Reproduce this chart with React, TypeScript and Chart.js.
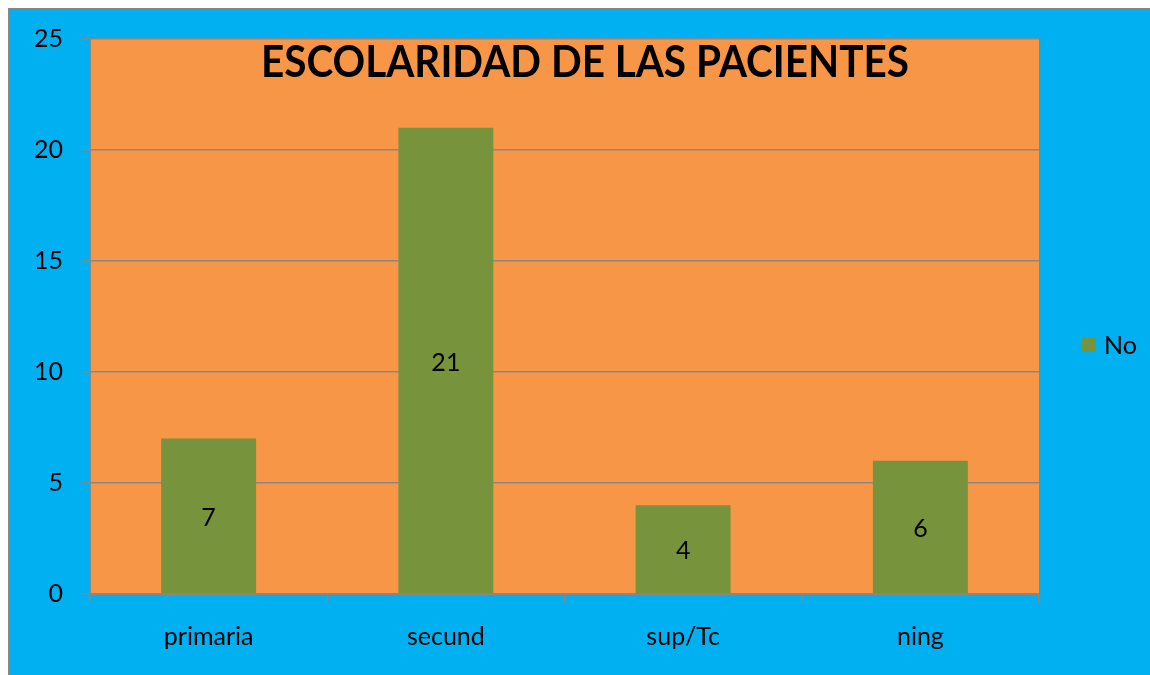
import React, { useEffect, useRef } from "react";
import { Chart, registerables } from "chart.js";

Chart.register(...registerables);

const categories = ["primaria", "secund", "sup/Tc", "ning"];
const seriesName = "No";
const seriesValues = [7, 21, 4, 6];
const yTicks = [0, 5, 10, 15, 20, 25];
const titleText = "ESCOLARIDAD DE LAS PACIENTES";

const BLUE = "#00B0F0";
const ORANGE = "#F79646";
const GREEN = "#77933C";
const GRAY = "#878787";
const FONT = "Lato";

const plotBg = {
  id: "plotBg",
  beforeDraw(chart: any) {
    const { ctx, chartArea } = chart;
    ctx.save();
    ctx.fillStyle = ORANGE;
    ctx.fillRect(chartArea.left, chartArea.top, chartArea.right - chartArea.left, chartArea.bottom - chartArea.top);
    ctx.restore();
  },
};

const overlay = {
  id: "overlay",
  afterDatasetsDraw(chart: any) {
    const { ctx, chartArea } = chart;
    const meta = chart.getDatasetMeta(0);
    ctx.save();
    ctx.fillStyle = "#000";
    ctx.font = `25px ${FONT}`;
    ctx.textAlign = "center";
    ctx.textBaseline = "middle";
    meta.data.forEach((bar: any, i: number) => {
      ctx.fillText(String(seriesValues[i]), bar.x, (bar.y + bar.base) / 2 + 2);
    });
    // legend
    const ds = chart.data.datasets[0];
    const bx = chartArea.right + 43;
    const by = 329;
    ctx.fillStyle = ds.backgroundColor;
    ctx.fillRect(bx, by, 14, 14);
    ctx.fillStyle = "#000";
    ctx.textAlign = "left";
    ctx.fillText(ds.label, bx + 22, by + 8);
    // title
    ctx.textAlign = "center";
    ctx.font = `bold 44px ${FONT}`;
    ctx.textBaseline = "alphabetic";
    const w = ctx.measureText(titleText).width;
    const target = 648;
    const sx = target / w;
    ctx.translate(chart.width / 2 + 5, 68);
    ctx.scale(sx, 1);
    ctx.fillText(titleText, 0, 0);
    ctx.restore();
  },
};

export default function App() {
  const ref = useRef<HTMLCanvasElement>(null);
  useEffect(() => {
    if (!ref.current) return;
    const chart = new Chart(ref.current, {
      type: "bar",
      data: {
        labels: categories,
        datasets: [
          {
            label: seriesName,
            data: seriesValues,
            backgroundColor: GREEN,
            borderWidth: 0,
            categoryPercentage: 0.4,
            barPercentage: 1,
          },
        ],
      },
      options: {
        animation: false,
        responsive: true,
        maintainAspectRatio: false,
        layout: { padding: { top: 30, right: 111, left: 0, bottom: 0 } },
        plugins: {
          legend: { display: false },
          title: { display: false },
          tooltip: { enabled: false },
        },
        scales: {
          x: {
            afterFit(scale: any) {
              scale.height = 81;
              scale.paddingLeft = 0;
              scale.paddingRight = 0;
            },
            grid: {
              drawOnChartArea: false,
              drawTicks: true,
              tickLength: 9,
              color: GRAY,
              lineWidth: 1.5,
              offset: true,
            },
            border: { display: true, color: GRAY, width: 2 },
            ticks: {
              color: "#000",
              font: { family: FONT, size: 25 },
              padding: 19,
            },
          },
          y: {
            min: 0,
            max: 25,
            afterFit(scale: any) {
              scale.width = 80;
              scale.paddingTop = 0;
              scale.paddingBottom = 0;
            },
            afterBuildTicks(scale: any) {
              scale.ticks = yTicks.map((v) => ({ value: v }));
            },
            grid: {
              color: GRAY,
              lineWidth: 1.5,
              tickLength: 8,
            },
            border: { display: true, color: GRAY, width: 2 },
            ticks: {
              color: "#000",
              font: { family: FONT, size: 25 },
              padding: 19,
            },
          },
        },
      },
      plugins: [plotBg, overlay],
    });
    return () => chart.destroy();
  }, []);

  return (
    <div
      style={{
        position: "fixed",
        left: 8,
        top: 8,
        right: 0,
        bottom: 0,
        background: BLUE,
        borderLeft: `2px solid ${GRAY}`,
        borderTop: `1px solid ${GRAY}`,
      }}
    >
      <div style={{ position: "relative", width: "100%", height: "100%" }}>
        <canvas ref={ref} />
      </div>
    </div>
  );
}
